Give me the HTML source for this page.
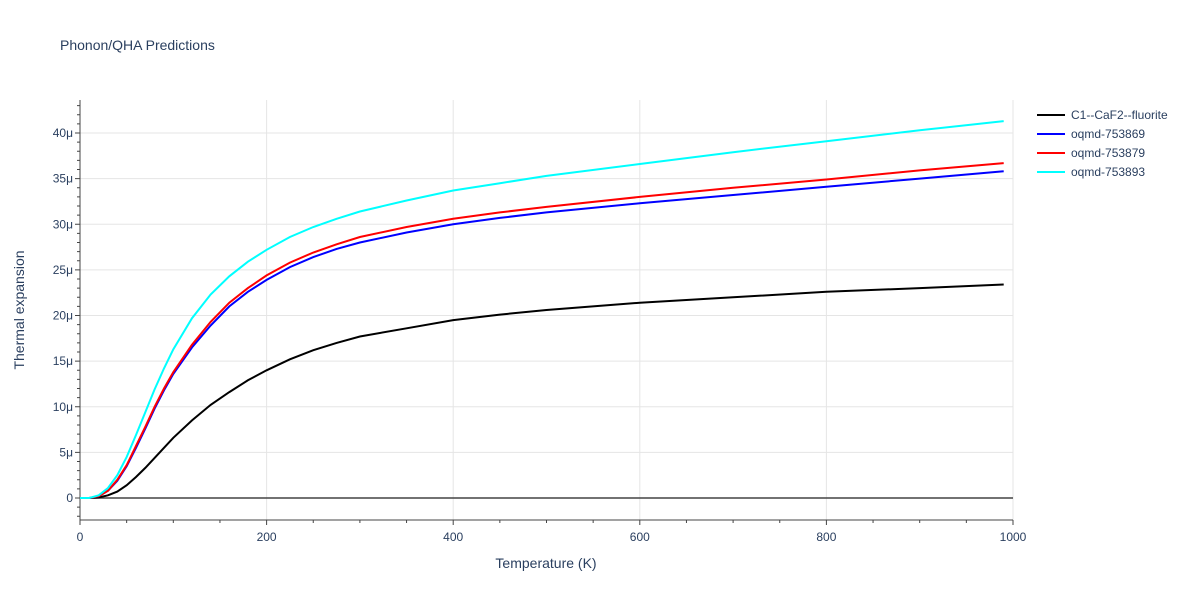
<!DOCTYPE html>
<html><head><meta charset="utf-8"><style>
body{margin:0;background:#fff;font-family:"Liberation Sans",sans-serif}
svg text{font-family:"Liberation Sans",sans-serif;fill:#2a3f5f}
</style></head><body>
<svg id="chart" width="1200" height="600">
<rect width="1200" height="600" fill="#fff"/>
<text x="60" y="50" font-size="14">Phonon/QHA Predictions</text>
<g id="grid"></g><g id="axes"></g><g id="lines"></g><g id="legend"></g>
</svg>
<script>
const temps=[0,10,20,30,40,50,60,70,80,90,100,120,140,160,180,200,225,250,275,300,350,400,450,500,600,700,800,900,990];
const seriesNames=["C1--CaF2--fluorite","oqmd-753869","oqmd-753879","oqmd-753893"];
const seriesColors=["#000000","#0000ff","#ff0000","#00ffff"];
const blackVals=[0,0,0.05,0.3,0.7,1.4,2.3,3.3,4.4,5.5,6.6,8.5,10.2,11.6,12.9,14.0,15.2,16.2,17.0,17.7,18.6,19.5,20.1,20.6,21.4,22.0,22.6,23.0,23.4];
const blueVals=[0,0,0.2,0.8,1.9,3.5,5.5,7.6,9.8,11.8,13.6,16.5,18.9,21.0,22.6,23.9,25.3,26.4,27.3,28.0,29.1,30.0,30.7,31.3,32.3,33.2,34.1,35.0,35.8];
const redVals=[0,0,0.2,0.8,2.0,3.6,5.7,7.8,10.0,12.0,13.8,16.8,19.3,21.4,23.0,24.4,25.8,26.9,27.8,28.6,29.7,30.6,31.3,31.9,33.0,34.0,34.9,35.9,36.7];
const cyanVals=[0,0,0.3,1.1,2.5,4.5,6.9,9.4,11.9,14.2,16.3,19.7,22.3,24.3,25.9,27.2,28.6,29.7,30.6,31.4,32.6,33.7,34.5,35.3,36.6,37.9,39.1,40.3,41.3];
const xTicks=[0,200,400,600,800,1000];
const yTicks=[0,5,10,15,20,25,30,35,40];
const NS="http://www.w3.org/2000/svg";
const x0=80,x1=1013,yTop=100,yBot=520;
const xs=v=>x0+v*(x1-x0)/1000;
const ys=v=>498-v*9.125;
function mk(t,a,p){const e=document.createElementNS(NS,t);for(const k in a)e.setAttribute(k,a[k]);p.appendChild(e);return e;}
const grid=document.getElementById('grid'),axes=document.getElementById('axes');
xTicks.forEach(t=>{
 const l=mk('line',{x1:xs(t),x2:xs(t),y1:yTop,y2:yBot,stroke:'#e5e5e5'},grid);
 
 const tx=mk('text',{x:xs(t),y:541,'font-size':12,'text-anchor':'middle'},axes);tx.textContent=t;
 
});
for(let t=0;t<=1000;t+=50){mk('line',{x1:xs(t),x2:xs(t),y1:yBot,y2:yBot+(t%200?3:5),stroke:'#444'},axes);}
yTicks.forEach(t=>{
 const l=mk('line',{x1:x0,x2:x1,y1:ys(t),y2:ys(t),stroke:t===0?'#444':'#e5e5e5','stroke-width':t===0?1.5:1},grid);
 
 const tx=mk('text',{x:73,y:ys(t)+4,'font-size':12,'text-anchor':'end'},axes);tx.textContent=t===0?'0':t+'μ';
 
});
for(let t=-2;t<=44;t++){if(ys(t)<yTop||ys(t)>yBot)continue;mk('line',{x1:x0,x2:x0-(t%5?3:5),y1:ys(t),y2:ys(t),stroke:'#444'},axes);}
mk('line',{x1:x0,x2:x0,y1:yTop,y2:yBot,stroke:'#444'},axes);
mk('line',{x1:x0,x2:x1,y1:yBot,y2:yBot,stroke:'#444'},axes);
let t1=mk('text',{x:546,y:568,'font-size':14,'text-anchor':'middle'},axes);t1.textContent='Temperature (K)';

let t2=mk('text',{x:24,y:310,'font-size':14,'text-anchor':'middle',transform:'rotate(-90 24 310)'},axes);t2.textContent='Thermal expansion';

const all=[blackVals,blueVals,redVals,cyanVals];
const lines=document.getElementById('lines'),leg=document.getElementById('legend');
all.forEach((vals,i)=>{
 const d=vals.map((v,j)=>(j?'L':'M')+xs(temps[j]).toFixed(1)+','+ys(v).toFixed(1)).join('');
 const p=mk('path',{d:d,fill:'none',stroke:seriesColors[i],'stroke-width':2},lines);
 
 
 const g=mk('g',{},leg);
 
 
 const y=115+i*19;
 mk('line',{x1:1037,x2:1065,y1:y,y2:y,stroke:seriesColors[i],'stroke-width':2},g);
 const tx=mk('text',{x:1071,y:y+4,'font-size':12},g);tx.textContent=seriesNames[i];
});
</script>
</body></html>
